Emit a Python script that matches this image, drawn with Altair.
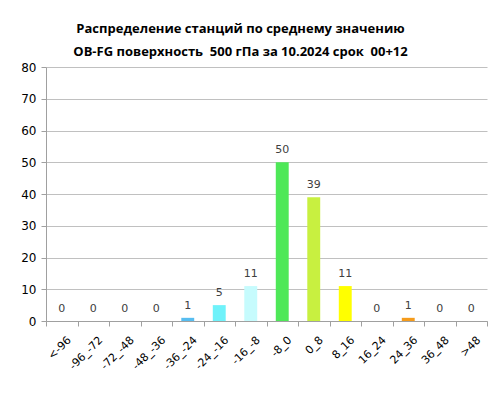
import altair as alt
import pandas as pd

categories = ["<-96", "-96_-72", "-72_-48", "-48_-36", "-36_-24", "-24_-16", "-16_-8",
              "-8_0", "0_8", "8_16", "16_24", "24_36", "36_48", ">48"]
counts = [0, 0, 0, 0, 1, 5, 11, 50, 39, 11, 0, 1, 0, 0]
colors = ["#3a2fa0", "#3f4fc8", "#3f6fe0", "#4a90e8", "#57bdf0", "#6ff2fa", "#c6fbfd",
          "#4ee858", "#c8f040", "#ffff00", "#ffc000", "#f59b1b", "#e05a10", "#c00000"]
y_ticks = [0, 10, 20, 30, 40, 50, 60, 70, 80]
title_lines = ["Распределение станций по среднему значению",
               "OB-FG поверхность\u00a0 500 гПа за 10.2024 срок\u00a0 00+12"]

df = pd.DataFrame({"cat": categories, "n": counts, "col": colors})

x = alt.X("cat:N", sort=categories, scale=alt.Scale(paddingInner=0, paddingOuter=0),
          axis=alt.Axis(title=None, labelAngle=-45, labelFont="DejaVu Sans", labelFontSize=11,
                        labelColor="#000000", tickBand="extent", tickSize=5,
                        tickColor="#a0a0a0", domainColor="#a0a0a0", labelPadding=8,
                        grid=False))
y = alt.Y("n:Q", scale=alt.Scale(domain=[0, 80]),
          axis=alt.Axis(title=None, values=y_ticks, labelFont="DejaVu Sans",
                        labelFontSize=12, labelColor="#000000", tickSize=5,
                        labelOverlap=False, tickColor="#a0a0a0", domainColor="#a0a0a0",
                        gridColor="#c0c0c0", labelPadding=5))

base = alt.Chart(df).encode(x=x, y=y)
bars = base.mark_bar(width=alt.RelativeBandSize(0.41)).encode(
    color=alt.Color("col:N", scale=None)
)
labels = base.mark_text(dy=-7, baseline="bottom", font="DejaVu Sans", fontSize=11,
                        color="#404040").encode(text="n:Q")

chart = (bars + labels).properties(
    width=441, height=254,
    autosize=alt.AutoSizeParams(type="none"),
    padding={"left": 38, "top": 59, "right": 1, "bottom": 60},
    title=alt.TitleParams(title_lines, font="Open Sans", fontSize=13, fontWeight="bold",
                          color="#000000", anchor="middle", dx=-26, dy=4, offset=6,
                          lineHeight=23),
).configure_view(stroke=None).configure_axisX(labelOffset=3)

chart.save("out.html", embed_options={"renderer": "svg", "actions": False})
